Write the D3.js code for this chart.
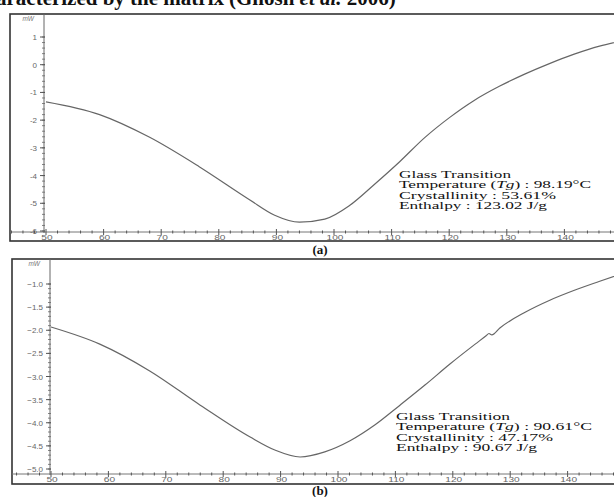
<!DOCTYPE html>
<html><head><meta charset="utf-8">
<script src="https://cdn.jsdelivr.net/npm/d3@7"></script>
<style>body{margin:0;background:#fff}svg{display:block}</style>
</head><body>
<svg id="c" width="614" height="497"></svg>
<script>
// ---- data ----
const tempA = [50,59.3,68,76.6,85.4,89.7,94,98.4,102.7,107,111.4,115.7,120.1,124.4,128.7,133.1,137.4,141.7,146.1,150];
const heatA = [-1.34,-1.80,-2.62,-3.68,-4.88,-5.43,-5.68,-5.57,-5.08,-4.32,-3.50,-2.64,-1.90,-1.28,-0.78,-0.34,0.04,0.38,0.67,0.86];
const tempB = [50,58.5,67.2,76,84.7,89,93.4,97.7,102.1,106.4,110.8,115.2,119.5,123.9,125.8,126.3,126.8,128.2,132.6,136.9,141.3,145.6,150];
const heatB = [-1.93,-2.30,-2.88,-3.62,-4.31,-4.59,-4.74,-4.63,-4.39,-4.05,-3.62,-3.18,-2.73,-2.30,-2.12,-2.07,-2.10,-1.95,-1.61,-1.35,-1.13,-0.94,-0.75];
const xTicks = [50,60,70,80,90,100,110,120,130,140,150];
const yTicksA = [1,0,-1,-2,-3,-4,-5,-6];
const yTicksB = [-1.0,-1.5,-2.0,-2.5,-3.0,-3.5,-4.0,-4.5,-5.0];
const infoA = ["Glass Transition","Temperature (Tg) : 98.19°C","Crystallinity : 53.61%","Enthalpy : 123.02 J/g"];
const infoB = ["Glass Transition","Temperature (Tg) : 90.61°C","Crystallinity : 47.17%","Enthalpy : 90.67 J/g"];

const svg = d3.select("#c");

// clipped caption line at the very top (only its lower part is visible in the reference)
const cap = svg.append("text").attr("x", 224).attr("y", 5)
  .attr("font-family","Liberation Serif").attr("font-size",21).attr("font-weight","bold")
  .attr("text-anchor","end").attr("fill","#111").text("characterized by the matrix");
const cit = svg.append("text").attr("x", 229).attr("y", 5)
  .attr("font-family","Liberation Serif").attr("font-size",21).attr("font-weight","bold").attr("fill","#111");
cit.append("tspan").text("(Ghosh ");
cit.append("tspan").attr("font-style","italic").text("et al.");
cit.append("tspan").text(" 2006)");

function panel(cfg){
  const g = svg.append("g");
  g.append("rect").attr("x",cfg.fx).attr("y",cfg.fy).attr("width",640).attr("height",cfg.fh)
    .attr("fill","none").attr("stroke","#333").attr("stroke-width",1.6);
  const x = d3.scaleLinear().domain([50,150]).range(cfg.xr);
  const y = d3.scaleLinear().domain(cfg.yd).range(cfg.yr);
  // x axis
  g.append("line").attr("x1",cfg.fx).attr("x2",614).attr("y1",cfg.ay).attr("y2",cfg.ay)
    .attr("stroke","#777").attr("stroke-width",1);
  const minorX = d3.range(44,152,2);
  g.selectAll(".mx").data(minorX).join("line")
    .attr("x1",d=>x(d)).attr("x2",d=>x(d))
    .attr("y1",d=>cfg.ay-(d%10===0?3:1.5)).attr("y2",d=>cfg.ay+(d%10===0?3:1.5))
    .attr("stroke","#555").attr("stroke-width",1);
  g.selectAll(".xl").data(xTicks).join("text")
    .attr("x",d=>x(d)+1).attr("y",cfg.ly).attr("text-anchor","middle")
    .attr("font-family","Liberation Sans").attr("font-size",7.5).attr("fill","#666")
    .attr("transform",d=>`translate(${x(d)+1},${cfg.ly}) scale(1.35,1) translate(${-(x(d)+1)},${-cfg.ly})`)
    .text(d=>d);
  // y axis
  g.append("line").attr("x1",cfg.yx).attr("x2",cfg.yx).attr("y1",cfg.fy).attr("y2",cfg.ay+1)
    .attr("stroke","#666").attr("stroke-width",1);
  const minorY = d3.range(cfg.yd[0], cfg.yd[1]+cfg.minor/2, cfg.minor);
  g.selectAll(".my").data(minorY).join("line")
    .attr("x1",cfg.yx-2).attr("x2",cfg.yx+1).attr("y1",d=>y(d)).attr("y2",d=>y(d))
    .attr("stroke","#666").attr("stroke-width",0.8);
  g.selectAll(".My").data(cfg.yt).join("line")
    .attr("x1",cfg.yx-4).attr("x2",cfg.yx+1).attr("y1",d=>y(d)).attr("y2",d=>y(d))
    .attr("stroke","#555").attr("stroke-width",1);
  g.selectAll(".yl").data(cfg.yt).join("text")
    .attr("x",cfg.yx-7).attr("y",d=>y(d)+3).attr("text-anchor","end")
    .attr("font-family","Liberation Sans").attr("font-size",8).attr("fill","#666")
    .text(cfg.fmt);
  g.append("text").attr("x",cfg.yx-10).attr("y",cfg.fy+7).attr("text-anchor","end")
    .attr("font-family","Liberation Sans").attr("font-size",6.5).attr("font-style","italic").attr("fill","#777").text("mW");
  // curve
  const pts = cfg.tx.map((t,i)=>[t,cfg.hv[i]]);
  g.append("path").datum(pts)
    .attr("d", d3.line().x(d=>x(d[0])).y(d=>y(d[1])).curve(d3.curveMonotoneX))
    .attr("fill","none").attr("stroke","#666").attr("stroke-width",1.2);
  // info block
  const lens = cfg.lens;
  g.selectAll(".info").data(cfg.info).join("text")
    .attr("x",cfg.ix).attr("y",(d,i)=>cfg.iy+i*10.3)
    .attr("font-family","Liberation Serif").attr("font-size",10.5).attr("fill","#111")
    .attr("textLength",(d,i)=>lens[i]).attr("lengthAdjust","spacingAndGlyphs")
    .each(function(d){
      const t = d3.select(this);
      const m = d.match(/^(.*\()Tg(\).*)$/);
      if(m){ t.append("tspan").text(m[1]); t.append("tspan").attr("font-style","italic").text("Tg"); t.append("tspan").text(m[2]); }
      else t.text(d);
    });
  svg.append("text").attr("x",320).attr("y",cfg.capy).attr("text-anchor","middle")
    .attr("font-family","Liberation Serif").attr("font-size",13).attr("font-weight","bold").attr("fill","#111")
    .text(cfg.cap);
}

panel({fx:10, fy:14, fh:227, xr:[46,622], yd:[-6,1], yr:[231,37], ay:232, ly:240.5, yx:44,
  yt:yTicksA, minor:0.2, fmt:d=>d, tx:tempA, hv:heatA, info:infoA, ix:399, iy:178,
  lens:[112,192,157,148], cap:"(a)", capy:254});
panel({fx:12, fy:259, fh:225, xr:[51,625], yd:[-5,-1], yr:[469,284], ay:474, ly:482.5, yx:50,
  yt:yTicksB, minor:0.1, fmt:d3.format(".1f"), tx:tempB, hv:heatB, info:infoB, ix:396, iy:420,
  lens:[114,196,157,141], cap:"(b)", capy:495});
</script>
</body></html>
